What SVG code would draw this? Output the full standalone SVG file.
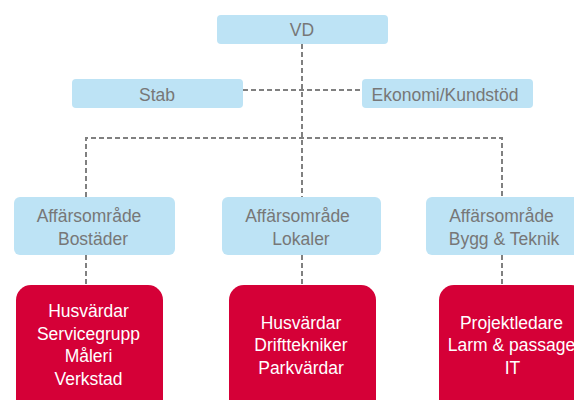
<svg xmlns="http://www.w3.org/2000/svg" width="574" height="400" viewBox="0 0 574 400">
<style>
.blue{fill:#bde3f5;}
.red{fill:#d50037;}
.t{font-family:"Liberation Sans",Arial,sans-serif;font-size:17.5px;text-anchor:middle;}
.g{fill:#777777;}
.w{fill:#ffffff;}
.c{stroke:#808080;stroke-width:2;stroke-dasharray:5 3;fill:none;}
</style>
<rect width="574" height="400" fill="#ffffff"/>
<g id="connectors">
<line class="c" x1="302" y1="44" x2="302" y2="197"/>
<line class="c" x1="243" y1="90" x2="362" y2="90"/>
<polyline class="c" points="86,197 86,138 502,138 502,197"/>
<line class="c" x1="86" y1="255" x2="86" y2="285"/>
<line class="c" x1="302" y1="255" x2="302" y2="285"/>
<line class="c" x1="502" y1="255" x2="502" y2="285"/>
</g>
<g id="vd">
<rect class="blue" x="217" y="15" width="171" height="29" rx="4"/>
<text class="t g" x="302" y="35.5">VD</text>
</g>
<g id="stab">
<rect class="blue" x="72" y="79" width="171" height="29" rx="4"/>
<text class="t g" x="157" y="100.5">Stab</text>
</g>
<g id="ekonomi">
<rect class="blue" x="362" y="79" width="171" height="29" rx="4"/>
<text class="t g" x="445" y="100.5">Ekonomi/Kundstöd</text>
</g>
<g id="ao-bostader">
<rect class="blue" x="14" y="197" width="161" height="58" rx="6"/>
<text class="t g" x="89" y="222">Affärsområde</text>
<text class="t g" x="93" y="245">Bostäder</text>
</g>
<g id="ao-lokaler">
<rect class="blue" x="222" y="197" width="159" height="58" rx="6"/>
<text class="t g" x="297.5" y="222">Affärsområde</text>
<text class="t g" x="301" y="245">Lokaler</text>
</g>
<g id="ao-bygg">
<rect class="blue" x="426" y="197" width="161" height="58" rx="6"/>
<text class="t g" x="501.5" y="222">Affärsområde</text>
<text class="t g" x="504" y="245">Bygg &amp; Teknik</text>
</g>
<g id="bostader-units">
<rect class="red" x="16" y="285" width="147" height="135" rx="15"/>
<text class="t w" x="88.5" y="317">Husvärdar</text>
<text class="t w" x="88.5" y="339.5">Servicegrupp</text>
<text class="t w" x="88.5" y="362">Måleri</text>
<text class="t w" x="88.5" y="384.5">Verkstad</text>
</g>
<g id="lokaler-units">
<rect class="red" x="229" y="285" width="147" height="135" rx="15"/>
<text class="t w" x="301" y="328.5">Husvärdar</text>
<text class="t w" x="301" y="351">Drifttekniker</text>
<text class="t w" x="301" y="373.5">Parkvärdar</text>
</g>
<g id="bygg-units">
<rect class="red" x="439" y="285" width="147" height="135" rx="15"/>
<text class="t w" x="511.5" y="328.5">Projektledare</text>
<text class="t w" x="511.5" y="351">Larm &amp; passage</text>
<text class="t w" x="512.5" y="373.5">IT</text>
</g>
</svg>
